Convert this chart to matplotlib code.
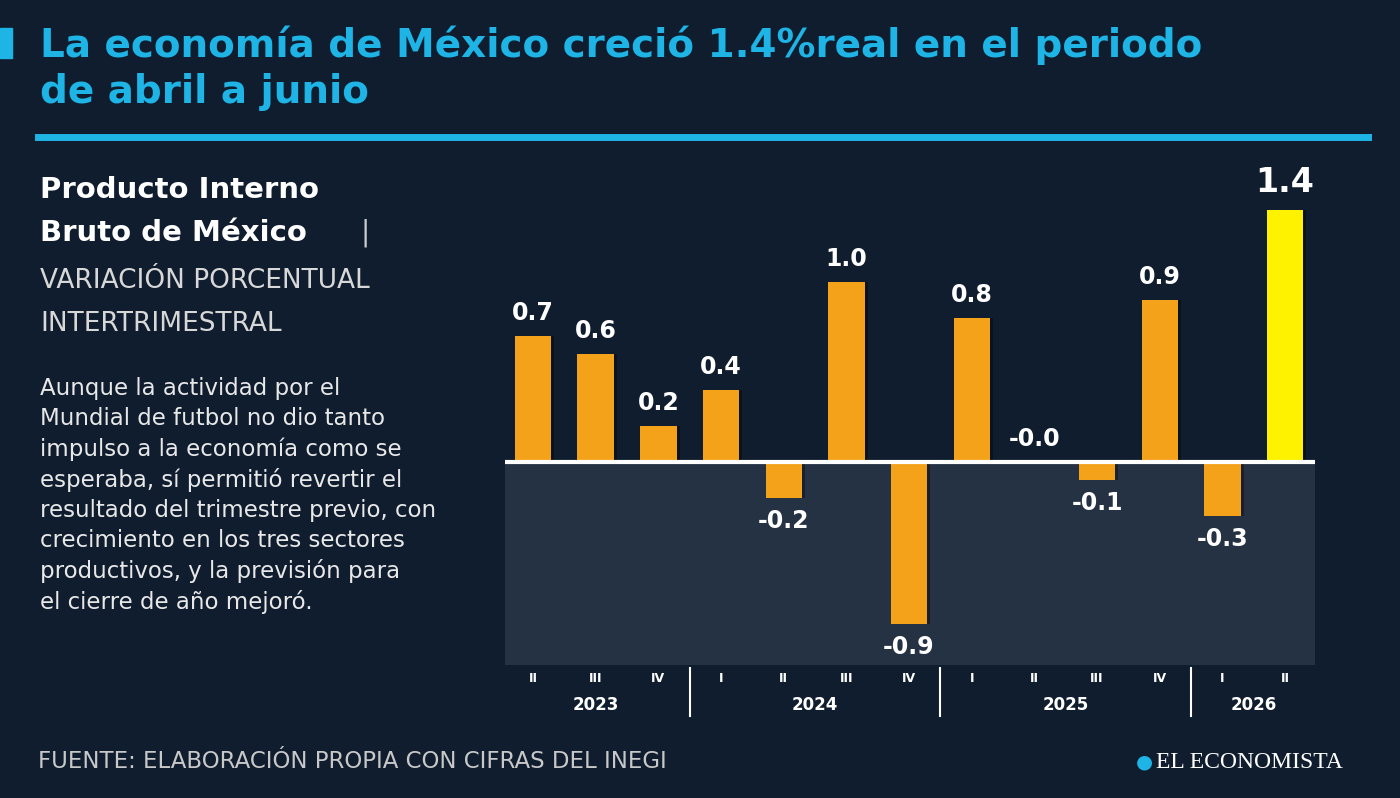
import matplotlib
matplotlib.use("Agg")
import matplotlib.pyplot as plt

quarters = ["II", "III", "IV", "I", "II", "III", "IV", "I", "II", "III", "IV", "I", "II"]
values = [0.7, 0.6, 0.2, 0.4, -0.2, 1.0, -0.9, 0.8, -0.0, -0.1, 0.9, -0.3, 1.4]
labels = ["0.7", "0.6", "0.2", "0.4", "-0.2", "1.0", "-0.9", "0.8", "-0.0", "-0.1", "0.9", "-0.3", "1.4"]
years = [("2023", 0, 2), ("2024", 3, 6), ("2025", 7, 10), ("2026", 11, 12)]

BG = "#0f1d2e"
CYAN = "#1eb4e6"
ORANGE = "#f5a21b"
YELLOW = "#fff200"
W, H = 1400, 798

fig = plt.figure(figsize=(14, 7.98), dpi=100, facecolor=BG)
ov = fig.add_axes([0, 0, 1, 1])
ov.set_xlim(0, W); ov.set_ylim(H, 0); ov.axis("off")
ov.set_facecolor(BG)
FONT = "DejaVu Sans"
THIN = "Liberation Sans Narrow"

ov.add_patch(plt.Rectangle((0, 28), 12, 30, color=CYAN))
ov.text(40, 45, "La economía de México creció 1.4%real en el periodo", color=CYAN,
        fontsize=28, fontweight="bold", family=FONT, va="center")
ov.text(40, 92, "de abril a junio", color=CYAN, fontsize=28, fontweight="bold", family=FONT, va="center")
ov.plot([38, 1368], [137, 137], color=CYAN, lw=5)

ov.text(40, 190, "Producto Interno", color="white", fontsize=21, fontweight="bold", family=FONT, va="center")
ov.text(40, 233, "Bruto de México", color="white", fontsize=21, fontweight="bold", family=FONT, va="center")
ov.text(360, 233, "|", color="#cccccc", fontsize=20, family=FONT, va="center")
ov.text(40, 281, "VARIACIÓN PORCENTUAL", color="#d8d8d8", fontsize=19, family=THIN, va="center")
ov.text(40, 324, "INTERTRIMESTRAL", color="#d8d8d8", fontsize=19, family=THIN, va="center")
body = ["Aunque la actividad por el", "Mundial de futbol no dio tanto",
        "impulso a la economía como se", "esperaba, sí permitió revertir el",
        "resultado del trimestre previo, con", "crecimiento en los tres sectores",
        "productivos, y la previsión para", "el cierre de año mejoró."]
for i, line in enumerate(body):
    ov.text(40, 388 + i * 30.5, line, color="#e8e8e8", fontsize=16.5, family=THIN, va="center")

ov.text(38, 762, "FUENTE: ELABORACIÓN PROPIA CON CIFRAS DEL INEGI", color="#c8c8c8",
        fontsize=16.5, family=THIN, va="center")
ov.text(1136, 762, "●", color=CYAN, fontsize=14, va="center", family=FONT)
ov.text(1156, 762, "EL ECONOMISTA", color="white", fontsize=17, family="Liberation Serif",
        va="center")

# bar axes
x0, dx, base, ppu = 533, 62.67, 462, 180
top_px, bot_px, left_px, right_px = 170, 665, 505, 1315
ax = fig.add_axes([left_px / W, 1 - bot_px / H, (right_px - left_px) / W, (bot_px - top_px) / H])
ax.set_xlim((left_px - x0) / dx, (right_px - x0) / dx)
ax.set_ylim(-(bot_px - base) / ppu, (base - top_px) / ppu)
ax.axis("off")
ax.axhspan(ax.get_ylim()[0], 0, color="#253244", zorder=0)
xs = list(range(len(values)))
colors = [ORANGE] * (len(values) - 1) + [YELLOW]
ax.bar([x + 0.05 for x in xs], values, width=0.58, color="#000000", alpha=0.35, zorder=1)
ax.bar(xs, values, width=0.58, color=colors, zorder=2)
ax.axhline(0, color="white", lw=3, zorder=3)
for x, v, lab in zip(xs, values, labels):
    big = x == len(values) - 1
    off = 0.06 if v >= 0 else -0.06
    ax.text(x, v + off, lab, color="white", fontsize=24 if big else 17, fontweight="bold",
            family=FONT, ha="center", va="bottom" if v >= 0 else "top", zorder=4)

for x, q in zip(xs, quarters):
    ov.text(x0 + x * dx, 678, q, color="white", fontsize=9, fontweight="bold", family=FONT,
            ha="center", va="center")
for name, a, b in years:
    ov.text(x0 + (a + b) / 2 * dx, 705, name, color="white", fontsize=12, fontweight="bold",
            family=FONT, ha="center", va="center")
for sep in [2.5, 6.5, 10.5]:
    ov.plot([x0 + sep * dx] * 2, [668, 716], color="white", lw=1.5)

fig.savefig("out.png", dpi=100, facecolor=BG)
